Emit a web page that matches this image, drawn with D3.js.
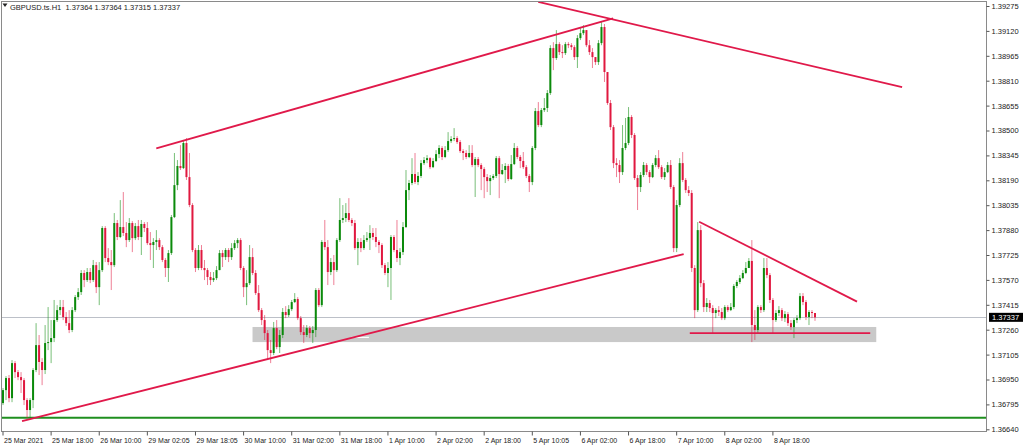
<!DOCTYPE html>
<html><head><meta charset="utf-8">
<script src="https://cdn.jsdelivr.net/npm/d3@7"></script>
<style>html,body{margin:0;padding:0;background:#fff;overflow:hidden}svg{display:block}</style>
</head><body><svg id="c" width="1024" height="447"></svg>
<script>
const symbol = "GBPUSD.ts.H1";
const firstOpen = 1.36803;
const closes = [1.36884,1.36959,1.36834,1.37052,1.36996,1.36965,1.36946,1.36822,1.36760,1.36822,
1.37009,1.37164,1.37059,1.37009,1.37177,1.37183,1.37208,1.37320,1.37382,1.37401,
1.37339,1.37301,1.37258,1.37382,1.37463,1.37494,1.37613,1.37569,1.37619,1.37569,
1.37662,1.37525,1.37631,1.37893,1.37706,1.37681,1.37662,1.37924,1.37837,1.37899,
1.37862,1.37818,1.37924,1.37830,1.37905,1.37837,1.37918,1.37893,1.37799,1.37787,
1.37806,1.37818,1.37774,1.37694,1.37644,1.37737,1.37961,1.38160,1.38279,1.38266,
1.38422,1.38210,1.38036,1.37756,1.37644,1.37756,1.37644,1.37631,1.37588,1.37569,
1.37581,1.37631,1.37737,1.37712,1.37756,1.37712,1.37768,1.37799,1.37818,1.37644,
1.37525,1.37550,1.37712,1.37613,1.37488,1.37382,1.37320,1.37239,1.37133,1.37115,
1.37270,1.37152,1.37227,1.37370,1.37351,1.37388,1.37432,1.37451,1.37332,1.37245,
1.37227,1.37270,1.37239,1.37258,1.37507,1.37413,1.37806,1.37774,1.37619,1.37681,
1.37631,1.37818,1.37943,1.37955,1.37986,1.37943,1.37924,1.37768,1.37806,1.37768,
1.37818,1.37830,1.37862,1.37837,1.37806,1.37787,1.37662,1.37613,1.37644,1.37837,
1.37756,1.37706,1.37743,1.37899,1.38129,1.38173,1.38229,1.38179,1.38217,1.38297,
1.38316,1.38328,1.38272,1.38310,1.38353,1.38391,1.38335,1.38378,1.38434,1.38447,
1.38453,1.38428,1.38372,1.38360,1.38335,1.38360,1.38285,1.38322,1.38285,1.38260,
1.38210,1.38185,1.38204,1.38217,1.38328,1.38229,1.38254,1.38279,1.38198,1.38291,
1.38391,1.38335,1.38310,1.38272,1.38217,1.38179,1.38391,1.38621,1.38534,1.38627,
1.38640,1.38733,1.39013,1.38951,1.39038,1.38988,1.38982,1.39038,1.39031,1.39019,
1.38957,1.39075,1.39106,1.39125,1.39031,1.38988,1.38957,1.38926,1.39044,1.39144,
1.38864,1.38671,1.38521,1.38297,1.38285,1.38241,1.38391,1.38422,1.38584,1.38472,
1.38204,1.38148,1.38223,1.38285,1.38241,1.38210,1.38285,1.38328,1.38272,1.38210,
1.38241,1.38285,1.38148,1.37768,1.38036,1.38297,1.38192,1.38129,1.38111,1.37644,
1.37382,1.37880,1.37550,1.37401,1.37426,1.37395,1.37364,1.37382,1.37370,1.37332,
1.37401,1.37382,1.37401,1.37532,1.37557,1.37581,1.37613,1.37644,1.37688,1.37289,
1.37258,1.37401,1.37382,1.37644,1.37600,1.37445,1.37320,1.37364,1.37382,1.37332,
1.37357,1.37301,1.37276,1.37320,1.37332,1.37469,1.37432,1.37339,1.37370,1.37364,
1.37337];
const highs = [1.36897,1.36971,1.36978,1.37071,1.37065,1.37009,1.36996,1.36959,1.36834,1.36834,
1.37021,1.37301,1.37227,1.37083,1.37289,1.37401,1.37320,1.37445,1.37413,1.37445,
1.37445,1.37370,1.37382,1.37401,1.37476,1.37519,1.37631,1.37631,1.37644,1.37644,
1.37694,1.37681,1.37681,1.37905,1.37905,1.37768,1.37756,1.37986,1.37943,1.38067,
1.38117,1.37930,1.37955,1.37936,1.37924,1.37943,1.37943,1.37930,1.37930,1.37868,
1.37830,1.37880,1.37830,1.37787,1.37706,1.37756,1.37974,1.38360,1.38316,1.38409,
1.38441,1.38453,1.38360,1.38048,1.37768,1.37787,1.37787,1.37694,1.37644,1.37619,
1.37619,1.37656,1.37756,1.37756,1.37768,1.37768,1.37799,1.37818,1.37830,1.37830,
1.37656,1.37631,1.37787,1.37768,1.37631,1.37538,1.37395,1.37351,1.37258,1.37196,
1.37308,1.37320,1.37258,1.37395,1.37407,1.37413,1.37445,1.37488,1.37463,1.37345,
1.37289,1.37289,1.37283,1.37283,1.37519,1.37519,1.37818,1.37943,1.37818,1.37706,
1.37725,1.37830,1.38079,1.38036,1.38048,1.38079,1.37955,1.37943,1.37830,1.37830,
1.37849,1.37868,1.37911,1.37893,1.37893,1.37818,1.37799,1.37675,1.37681,1.37849,
1.37849,1.37943,1.37768,1.37930,1.38254,1.38192,1.38328,1.38360,1.38241,1.38316,
1.38335,1.38347,1.38335,1.38328,1.38378,1.38409,1.38403,1.38403,1.38490,1.38465,
1.38515,1.38465,1.38441,1.38384,1.38378,1.38409,1.38409,1.38335,1.38335,1.38297,
1.38272,1.38229,1.38223,1.38229,1.38341,1.38341,1.38291,1.38297,1.38291,1.38347,
1.38422,1.38403,1.38347,1.38366,1.38285,1.38229,1.38403,1.38640,1.38677,1.38640,
1.38702,1.38752,1.39031,1.39050,1.39125,1.39050,1.39031,1.39050,1.39050,1.39044,
1.39031,1.39094,1.39138,1.39156,1.39125,1.39063,1.39013,1.38957,1.39063,1.39175,
1.39163,1.38864,1.38690,1.38534,1.38328,1.38316,1.38534,1.38578,1.38646,1.38596,
1.38484,1.38223,1.38241,1.38304,1.38297,1.38254,1.38297,1.38347,1.38378,1.38285,
1.38266,1.38304,1.38316,1.38160,1.38067,1.38328,1.38366,1.38204,1.38154,1.38129,
1.37662,1.37930,1.37911,1.37569,1.37457,1.37445,1.37413,1.37395,1.37407,1.37395,
1.37413,1.37413,1.37426,1.37544,1.37569,1.37600,1.37631,1.37681,1.37706,1.37818,
1.37382,1.37413,1.37413,1.37706,1.37706,1.37613,1.37457,1.37382,1.37407,1.37395,
1.37376,1.37370,1.37320,1.37332,1.37351,1.37488,1.37488,1.37445,1.37382,1.37382,
1.37364];
const lows = [1.36791,1.36822,1.36809,1.36809,1.36959,1.36946,1.36866,1.36791,1.36710,1.36710,
1.36772,1.36996,1.36978,1.36915,1.36984,1.37133,1.37052,1.37183,1.37308,1.37351,
1.37320,1.37283,1.37239,1.37245,1.37370,1.37445,1.37476,1.37525,1.37557,1.37550,
1.37557,1.37488,1.37413,1.37619,1.37681,1.37662,1.37507,1.37650,1.37818,1.37830,
1.37843,1.37774,1.37806,1.37743,1.37818,1.37818,1.37725,1.37868,1.37787,1.37694,
1.37644,1.37756,1.37756,1.37681,1.37588,1.37557,1.37725,1.37955,1.38129,1.38254,
1.38260,1.38192,1.38023,1.37743,1.37619,1.37631,1.37631,1.37569,1.37538,1.37538,
1.37557,1.37569,1.37631,1.37650,1.37694,1.37681,1.37694,1.37756,1.37768,1.37631,
1.37463,1.37413,1.37538,1.37600,1.37476,1.37370,1.37289,1.37196,1.37071,1.37052,
1.37102,1.37139,1.37115,1.37208,1.37332,1.37339,1.37376,1.37426,1.37320,1.37227,
1.37177,1.37214,1.37208,1.37177,1.37214,1.37401,1.37401,1.37756,1.37538,1.37600,
1.37538,1.37619,1.37806,1.37924,1.37930,1.37930,1.37905,1.37756,1.37662,1.37743,
1.37756,1.37806,1.37756,1.37818,1.37774,1.37737,1.37644,1.37600,1.37525,1.37445,
1.37743,1.37681,1.37662,1.37725,1.37893,1.38067,1.38160,1.38167,1.38160,1.38204,
1.38285,1.38297,1.38260,1.38266,1.38304,1.38328,1.38316,1.38328,1.38366,1.38422,
1.38434,1.38416,1.38360,1.38316,1.38322,1.38328,1.38272,1.38086,1.38272,1.38129,
1.38079,1.38117,1.38098,1.38192,1.38204,1.38079,1.38223,1.38173,1.38185,1.38192,
1.38285,1.38322,1.38266,1.38260,1.38204,1.38117,1.38160,1.38378,1.38521,1.38521,
1.38615,1.38615,1.38721,1.38876,1.38939,1.38970,1.38951,1.38970,1.39013,1.39001,
1.38939,1.38889,1.39063,1.39094,1.39019,1.38970,1.38889,1.38908,1.38908,1.39031,
1.38802,1.38659,1.38503,1.38266,1.38210,1.38173,1.38223,1.38378,1.38409,1.38453,
1.38192,1.38005,1.38117,1.38210,1.38223,1.38173,1.38204,1.38272,1.38260,1.38198,
1.38192,1.38235,1.38136,1.37743,1.37743,1.38023,1.38179,1.38111,1.38092,1.37619,
1.37332,1.37370,1.37525,1.37370,1.37370,1.37370,1.37239,1.37332,1.37345,1.37320,
1.37320,1.37370,1.37376,1.37388,1.37519,1.37544,1.37575,1.37606,1.37644,1.37183,
1.37196,1.37239,1.37364,1.37370,1.37581,1.37426,1.37239,1.37308,1.37345,1.37314,
1.37308,1.37283,1.37258,1.37208,1.37301,1.37320,1.37413,1.37320,1.37289,1.37332,
1.37315];

const priceTicks = [1.36640,1.36795,1.36950,1.37105,1.37260,1.37415,1.37570,1.37725,1.37880,
  1.38035,1.38190,1.38345,1.38500,1.38655,1.38810,1.38965,1.39120,1.39275];
const timeLabels = ["25 Mar 2021","25 Mar 18:00","26 Mar 10:00","29 Mar 02:05","29 Mar 18:05",
  "30 Mar 10:00","31 Mar 02:00","31 Mar 18:00","1 Apr 10:00","2 Apr 02:00","2 Apr 18:00",
  "5 Apr 10:05","6 Apr 02:00","6 Apr 18:00","7 Apr 10:00","8 Apr 02:00","8 Apr 18:00"];
const timeLabelBars = [0,16,32,48,64,80,96,112,128,144,160,176,192,208,224,240,256];

// drawn objects: [barFrom, priceFrom, barTo, priceTo]
const redLines = [
  [6.67, 1.36691, 226.67, 1.37731],
  [51.3, 1.38389, 203.2, 1.39198],
  [178.3, 1.39300, 299.3, 1.38770],
  [231.8, 1.37932, 284.3, 1.37435],
  [228.7, 1.37239, 288.7, 1.37239]
];
const zone = [83.3, 1.37277, 290.7, 1.37183];
const zoneMark = [116, 122, 1.37212];
const greenLevel = 1.36712;

const W = 1024, H = 447;
const plot = {l:1, t:1, r:986, b:431};
const svg = d3.select("#c");
const x = d3.scaleLinear().domain([0, 270]).range([2, 814]);
const y = d3.scaleLinear().domain([1.36640, 1.39275]).range([429.3, 6]);

const UP = "#0b8a0b", DN = "#e0183f", LINE = "#e0194a";

svg.append("defs").append("clipPath").attr("id","clip")
  .append("rect").attr("x",plot.l).attr("y",plot.t).attr("width",plot.r-plot.l).attr("height",plot.b-plot.t);

const g = svg.append("g").attr("clip-path","url(#clip)");

// zone rectangle
g.append("rect").attr("x", x(zone[0])).attr("y", y(zone[1]))
  .attr("width", x(zone[2]) - x(zone[0])).attr("height", y(zone[3]) - y(zone[1]))
  .attr("fill", "#c9c9c9");
g.append("line").attr("x1", x(zoneMark[0])).attr("x2", x(zoneMark[1]))
  .attr("y1", y(zoneMark[2])).attr("y2", y(zoneMark[2]))
  .attr("stroke","#fff").attr("stroke-width",1.2);

// current price line
const last = closes[closes.length-1];
g.append("line").attr("x1", plot.l).attr("x2", plot.r)
  .attr("y1", Math.round(y(last))+0.5).attr("y2", Math.round(y(last))+0.5)
  .attr("stroke","#bcc0c8").attr("stroke-width",1);

// green level
g.append("line").attr("x1", plot.l).attr("x2", plot.r)
  .attr("y1", y(greenLevel)).attr("y2", y(greenLevel))
  .attr("stroke","#1f8f1f").attr("stroke-width",1.8);

// candles
const bars = closes.map((c,i)=>{
  const o = i===0 ? firstOpen : closes[i-1];
  return {i, o, c, h: Math.max(highs[i], o, c), l: Math.min(lows[i], o, c)};
});
const cg = g.append("g");
cg.selectAll(".wick").data(bars).join("rect")
  .attr("x", d => x(d.i) + 0.5).attr("width", 1)
  .attr("y", d => y(d.h)).attr("height", d => Math.max(1, y(d.l) - y(d.h)))
  .attr("fill", d => d.c >= d.o ? UP : DN).attr("opacity", 0.55);
cg.selectAll(".body").data(bars).join("rect")
  .attr("x", d => x(d.i)).attr("width", 2)
  .attr("y", d => y(Math.max(d.o,d.c)))
  .attr("height", d => Math.max(1, Math.abs(y(d.o) - y(d.c))))
  .attr("fill", d => d.c >= d.o ? UP : DN);

// trend lines
g.selectAll(".tl").data(redLines).join("line")
  .attr("x1", d => x(d[0])).attr("y1", d => y(d[1]))
  .attr("x2", d => x(d[2])).attr("y2", d => y(d[3]))
  .attr("stroke", LINE).attr("stroke-width", 1.8);

// frame
svg.append("rect").attr("x", plot.l+0.5).attr("y", plot.t+0.5)
  .attr("width", plot.r-plot.l).attr("height", plot.b-plot.t)
  .attr("fill","none").attr("stroke","#8a8a8a").attr("stroke-width",1);

// price axis
const ya = d3.axisRight(y).tickValues(priceTicks).tickFormat(d3.format(".5f")).tickSize(3).tickPadding(2);
const yg = svg.append("g").attr("transform", `translate(${plot.r+0.5},0)`).call(ya);
yg.select(".domain").remove();
yg.selectAll("line").attr("stroke","#555");
yg.selectAll("text").attr("font-family","'Liberation Sans', Arial, sans-serif").attr("font-size","7.5px").attr("fill","#222");

// current price tag
const ty = y(last);
svg.append("rect").attr("x", plot.r+3).attr("y", ty-4.5).attr("width", 34).attr("height", 9).attr("fill","#000");
svg.append("text").attr("x", plot.r+6).attr("y", ty+3).text(d3.format(".5f")(last))
  .attr("font-family","'Liberation Sans', Arial, sans-serif").attr("font-size","7.5px").attr("fill","#fff");

// time axis
const xa = d3.axisBottom(x).tickValues(timeLabelBars).tickFormat((d,i)=>timeLabels[i]).tickSize(4).tickPadding(3);
const xg = svg.append("g").attr("transform", `translate(0.5,${plot.b+0.5})`).call(xa);
xg.select(".domain").remove();
xg.selectAll("line").attr("stroke","#555");
xg.selectAll("text").attr("text-anchor","start").attr("dx","1px")
  .attr("font-family","'Liberation Sans', Arial, sans-serif").attr("font-size","7px").attr("fill","#222");

// header
svg.append("path").attr("d","M2.5,3.5 L7.5,3.5 L5,7 Z").attr("fill","#222");
const lb = bars[bars.length-1];
const fmt = d3.format(".5f");
svg.append("text").attr("x", 10).attr("y", 10)
  .text(`${symbol}  ${fmt(lb.o)} ${fmt(lb.h)} ${fmt(lb.l)} ${fmt(lb.c)}`)
  .attr("font-family","'Liberation Sans', Arial, sans-serif").attr("font-size","7.5px").attr("fill","#222")
  .attr("xml:space","preserve");
</script></body></html>
